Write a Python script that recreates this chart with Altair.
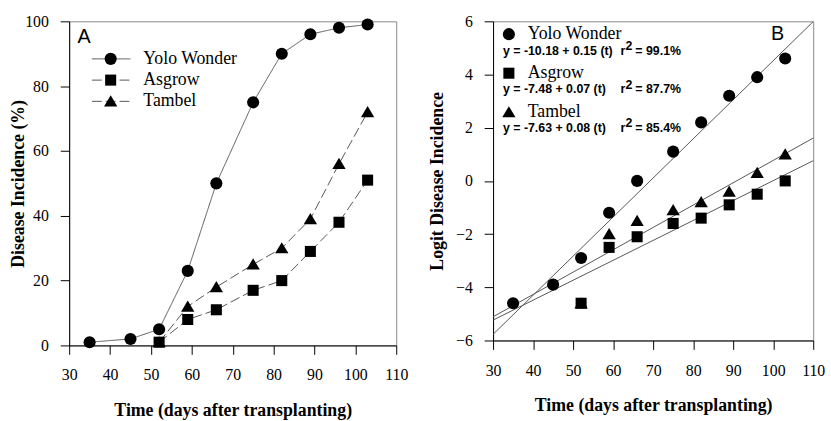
import altair as alt
import pandas as pd

# ---- data -------------------------------------------------------------
series = ["Yolo Wonder", "Asgrow", "Tambel"]

yolo_days = [35, 45, 52, 59, 66, 75, 82, 89, 96, 103]
yolo_pct = [1, 2, 5, 23, 50, 75, 90, 96, 98, 99]
asgrow_days = [52, 59, 66, 75, 82, 89, 96, 103]
asgrow_pct = [1, 8, 11, 17, 20, 29, 38, 51]
tambel_days = [52, 59, 66, 75, 82, 89, 96, 103]
tambel_pct = [1, 12, 18, 25, 30, 39, 56, 72]

yolo_logit = [-4.6, -3.9, -2.9, -1.2, 0.0, 1.1, 2.2, 3.2, 3.9, 4.6]
asgrow_logit = [-4.6, -2.5, -2.1, -1.6, -1.4, -0.9, -0.5, 0.0]
tambel_logit = [-4.6, -2.0, -1.5, -1.1, -0.8, -0.4, 0.3, 1.0]

# fitted logit lines  y = a + b * t
intercepts = [-10.18, -7.48, -7.63]
slopes = [0.147, 0.0749, 0.084]
r_squared = [99.1, 87.7, 85.4]
fit_range = [30, 110]

x_ticks = [30, 40, 50, 60, 70, 80, 90, 100, 110]
pct_ticks = [0, 20, 40, 60, 80, 100]
logit_ticks = [-6, -4, -2, 0, 2, 4, 6]

# ---- tables -----------------------------------------------------------
rows = []
for name, d, p, lg in [("Yolo Wonder", yolo_days, yolo_pct, yolo_logit),
                       ("Asgrow", asgrow_days, asgrow_pct, asgrow_logit),
                       ("Tambel", tambel_days, tambel_pct, tambel_logit)]:
    for di, pi, li in zip(d, p, lg):
        rows.append({"series": name, "day": di, "pct": pi, "logit": li})
obs = pd.DataFrame(rows)

fit_rows = []
for name, a, b in zip(series, intercepts, slopes):
    for t in fit_range:
        fit_rows.append({"series": name, "t": t, "y": a + b * t})
fits = pd.DataFrame(fit_rows)

# ---- shared styling ---------------------------------------------------
SERIF = "Liberation Serif"
SANS = "Liberation Sans"
TRIANGLE = "M0,-1L1.1,0.85L-1.1,0.85Z"
# marker per series; triangles drawn before squares so squares sit on top
MARKERS = [("Yolo Wonder", "circle", 150),
           ("Tambel", TRIANGLE, 150),
           ("Asgrow", "square", 125)]
dash_scale = alt.Scale(domain=series, range=[[1, 0], [10, 4], [10, 4]])
LINE_GREY = "#555555"

W_A, H_A = 331, 328
W_B, H_B = 324, 323


def x_axis(w):
    return alt.Axis(values=x_ticks, title="Time (days after transplanting)",
                    titleY=66, titleBaseline="middle", titleX=w / 2)


def y_axis(title, ticks, h, tx):
    return alt.Axis(values=ticks, title=title, titleX=tx, titleY=h / 2,
                    titleBaseline="middle", titleAngle=-90)


def symbols(base, **enc):
    layers = []
    for name, shape, size in MARKERS:
        layers.append(
            base.transform_filter(alt.datum.series == name)
            .mark_point(filled=True, color="black", opacity=1, shape=shape,
                        size=size, strokeWidth=0)
            .encode(**enc))
    return layers


# ---- panel A: disease incidence over time -----------------------------
xa = alt.X("day:Q", scale=alt.Scale(domain=[30, 110], nice=False), axis=x_axis(W_A))
ya = alt.Y("pct:Q", scale=alt.Scale(domain=[0, 100], nice=False),
           axis=y_axis("Disease Incidence (%)", pct_ticks, H_A, -51))

a_lines = alt.Chart(obs).mark_line(color=LINE_GREY, strokeWidth=1).encode(
    x=xa, y=ya, detail="series:N",
    strokeDash=alt.StrokeDash("series:N", scale=dash_scale, legend=None))
a_points = symbols(alt.Chart(obs), x=xa, y=ya)

leg_a = pd.DataFrame({"series": series, "row": [0, 1, 2]})
leg_a_base = alt.Chart(leg_a).transform_calculate(py="38 + datum.row * 21.5")
ya_leg = alt.Y("py:Q", scale=None, axis=None)
leg_a_lines = leg_a_base.mark_rule(color=LINE_GREY, strokeWidth=1).encode(
    x=alt.value(23), x2=alt.value(62), y=ya_leg,
    strokeDash=alt.StrokeDash("series:N", scale=dash_scale, legend=None))
leg_a_marks = symbols(leg_a_base, x=alt.value(42), y=ya_leg)
leg_a_text = leg_a_base.mark_text(align="left", baseline="middle", font=SERIF,
                                  fontSize=18, color="black").encode(
    x=alt.value(75), y=ya_leg, text="series:N")
tag_a = alt.Chart(pd.DataFrame({"t": ["A"]})).mark_text(
    align="center", baseline="middle", font=SANS, fontSize=20, color="black").encode(
    x=alt.value(15), y=alt.value(16), text="t:N")

panel_a = alt.layer(a_lines, *a_points, leg_a_lines, *leg_a_marks, leg_a_text, tag_a
                    ).properties(width=W_A, height=H_A)

# ---- panel B: logit of disease incidence with fitted lines ------------
xb = alt.X("day:Q", scale=alt.Scale(domain=[30, 110], nice=False), axis=x_axis(W_B))
yb = alt.Y("logit:Q", scale=alt.Scale(domain=[-6, 6], nice=False),
           axis=y_axis("Logit Disease Incidence", logit_ticks, H_B, -56))

b_fits = alt.Chart(fits).mark_line(color=LINE_GREY, strokeWidth=1).encode(
    x=alt.X("t:Q", scale=alt.Scale(domain=[30, 110], nice=False), axis=x_axis(W_B)),
    y=alt.Y("y:Q", scale=alt.Scale(domain=[-6, 6], nice=False),
            axis=y_axis("Logit Disease Incidence", logit_ticks, H_B, -56)),
    detail="series:N")
b_points = symbols(alt.Chart(obs), x=xb, y=yb)

eq_rows = []
for i, (name, a, b, r2) in enumerate(zip(series, intercepts, slopes, r_squared)):
    eq_rows.append({"series": name, "row": i,
                    "eq": f"y = {a:.2f} + {b:.2f} (t)",
                    "r": "r", "sup": "2", "rval": f"= {r2:.1f}%"})
leg_b = pd.DataFrame(eq_rows)
leg_b_base = alt.Chart(leg_b).transform_calculate(
    py="13 + datum.row * 39.5", qy="30 + datum.row * 39")
yname = alt.Y("py:Q", scale=None, axis=None)
yeq = alt.Y("qy:Q", scale=None, axis=None)

leg_b_marks = symbols(leg_b_base, x=alt.value(16), y=yname)
leg_b_names = leg_b_base.mark_text(align="left", baseline="middle", font=SERIF,
                                   fontSize=18, color="black").encode(
    x=alt.value(35), y=yname, text="series:N")
eq_font = dict(baseline="middle", font=SANS, fontWeight="bold",
               fontSize=12.5, color="black")
leg_b_eq = leg_b_base.mark_text(align="left", **eq_font).encode(
    x=alt.value(10), y=yeq, text="eq:N")
leg_b_r = leg_b_base.mark_text(align="left", **eq_font).encode(
    x=alt.value(129), y=yeq, text="r:N")
leg_b_sup = leg_b_base.mark_text(align="left", dy=-5, **eq_font).encode(
    x=alt.value(134), y=yeq, text="sup:N")
leg_b_rv = leg_b_base.mark_text(align="left", **eq_font).encode(
    x=alt.value(144), y=yeq, text="rval:N")
tag_b = alt.Chart(pd.DataFrame({"t": ["B"]})).mark_text(
    align="center", baseline="middle", font=SANS, fontSize=20, color="black").encode(
    x=alt.value(288), y=alt.value(13), text="t:N")

panel_b = alt.layer(b_fits, *b_points, *leg_b_marks, leg_b_names, leg_b_eq,
                    leg_b_r, leg_b_sup, leg_b_rv, tag_b
                    ).properties(width=W_B, height=H_B)

chart = alt.hconcat(panel_a, panel_b, spacing=19).configure_view(
    stroke="#888888", strokeWidth=1
).configure_axis(
    grid=False, domainColor="black", domainWidth=1, tickColor="black",
    tickSize=9, tickWidth=1, labelFont=SERIF, labelFontSize=16,
    labelColor="black", titleFont=SERIF, titleFontSize=18,
    titleFontWeight="bold", titleColor="black"
).configure_axisX(labelPadding=13, labelFlush=False
).configure_axisY(labelPadding=12
).properties(padding={"left": 9, "top": 10, "right": 5, "bottom": 5},
             background="white")

chart.save("out.html", embed_options={"renderer": "svg", "actions": False})
